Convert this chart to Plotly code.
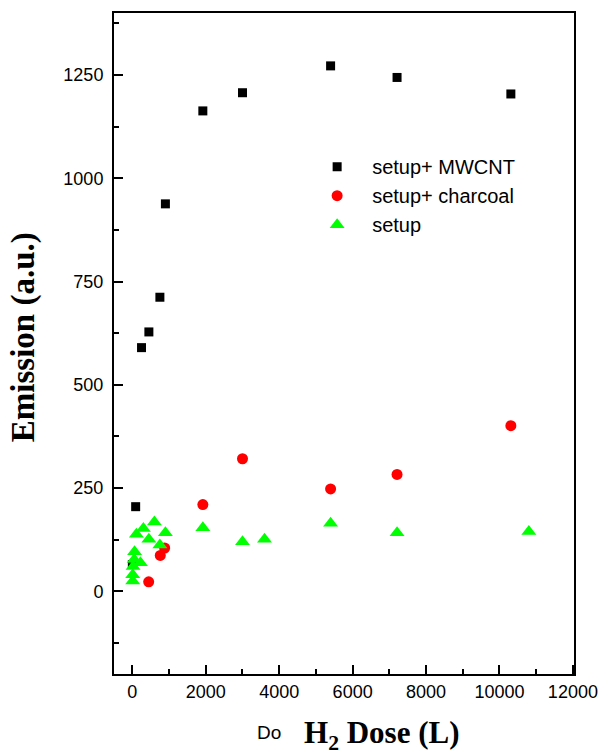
import plotly.graph_objects as go

# Emission vs. H2 dose for three configurations
mwcnt_dose = [0, 90, 250, 450, 750, 900, 1920, 3000, 5400, 7210, 10310]
mwcnt_emission = [65, 205, 590, 628, 712, 938, 1163, 1207, 1272, 1244, 1204]

charcoal_dose = [445, 760, 880, 1920, 3000, 5400, 7210, 10310]
charcoal_emission = [23, 87, 105, 210, 321, 248, 283, 401]

setup_dose = [10, 10, 20, 50, 60, 110, 220, 300, 450, 600, 750, 900,
              1920, 3000, 3600, 5400, 7210, 10800]
setup_emission = [25, 40, 60, 77, 96, 138, 69, 152, 126, 168, 112, 142,
                  154, 120, 126, 165, 142, 145]

series_names = ["setup+ MWCNT", "setup+ charcoal", "setup"]

SANS = "Liberation Sans, Arial, sans-serif"
SERIF = "Liberation Serif, Times New Roman, serif"

fig = go.Figure()
fig.add_trace(go.Scatter(
    x=mwcnt_dose, y=mwcnt_emission, mode="markers", name=series_names[0],
    legendgroup="a",
    marker=dict(symbol="square", size=9, color="#000000", line=dict(width=0)),
))
fig.add_trace(go.Scatter(
    x=charcoal_dose, y=charcoal_emission, mode="markers", name=series_names[1],
    legendgroup="b",
    marker=dict(symbol="circle", size=11, color="#FF0000", line=dict(width=0)),
))
fig.add_trace(go.Scatter(
    x=setup_dose, y=setup_emission, mode="markers", name=series_names[2],
    legendgroup="c",
    marker=dict(symbol="triangle-up", size=13, color="#00FF00", line=dict(width=0)),
))

x_range = [-500, 12030]
y_range = [-200, 1400]

fig.update_layout(
    width=603, height=756,
    margin=dict(l=114, r=29, t=13, b=82, autoexpand=False),
    paper_bgcolor="white", plot_bgcolor="white",
    font=dict(family=SANS, size=18, color="black"),
    showlegend=True,
    legend=dict(
        x=0.409, y=0.797, xanchor="left", yanchor="top",
        bgcolor="rgba(0,0,0,0)", borderwidth=0,
        font=dict(family=SANS, size=20, color="black"),
        traceorder="grouped", tracegroupgap=0, itemwidth=60,
    ),
    xaxis=dict(
        range=x_range, showgrid=False, zeroline=False, automargin=False,
        showline=True, linecolor="black", linewidth=2, mirror=True,
        ticks="inside", ticklen=9, tickwidth=1.5, tickcolor="black",
        tick0=0, dtick=2000, ticklabelstandoff=0, tickformat="d",
        tickfont=dict(family=SANS, size=18),
        minor=dict(ticks="inside", ticklen=5, tickwidth=1.5, tickcolor="black",
                   dtick=1000, tick0=0, showgrid=False),
    ),
    xaxis2=dict(
        range=x_range, overlaying="x", side="top", matches="x", automargin=False,
        showgrid=False, zeroline=False, showline=False,
        ticks="inside", ticklen=3, tickwidth=1, tickcolor="#888888",
        tick0=0, dtick=1000, showticklabels=False,
    ),
    yaxis=dict(
        range=y_range, showgrid=False, zeroline=False, automargin=False,
        showline=True, linecolor="black", linewidth=2, mirror=True,
        ticks="inside", ticklen=9, tickwidth=1.5, tickcolor="black",
        ticklabelstandoff=5,
        tickvals=[0, 250, 500, 750, 1000, 1250],
        tickfont=dict(family=SANS, size=18),
        minor=dict(ticks="inside", ticklen=5, tickwidth=1.5, tickcolor="black",
                   tickvals=[-125, 125, 375, 625, 875, 1125, 1375], showgrid=False),
    ),
    yaxis2=dict(
        range=y_range, overlaying="y", side="right", matches="y", automargin=False,
        showgrid=False, zeroline=False, showline=False,
        ticks="outside", ticklen=2, tickwidth=1, tickcolor="#aaaaaa",
        tick0=-125, dtick=125, showticklabels=False,
    ),
    annotations=[
        dict(text="<b>Emission (a.u.)</b>", textangle=-90,
             xref="paper", yref="paper", x=-0.195, y=0.51,
             xanchor="center", yanchor="middle", showarrow=False,
             font=dict(family=SERIF, size=33, color="black")),
        dict(text="<b>H<sub>2</sub> Dose (L)</b>",
             xref="paper", yref="paper", x=(382 - 114) / 460, y=-0.093,
             xanchor="center", yanchor="middle", showarrow=False,
             font=dict(family=SERIF, size=31, color="black")),
        dict(text="Do",
             xref="paper", yref="paper", x=(269 - 114) / 460, y=-0.088,
             xanchor="center", yanchor="middle", showarrow=False,
             font=dict(family=SANS, size=19, color="black")),
    ],
)

fig.write_html("out.html")
